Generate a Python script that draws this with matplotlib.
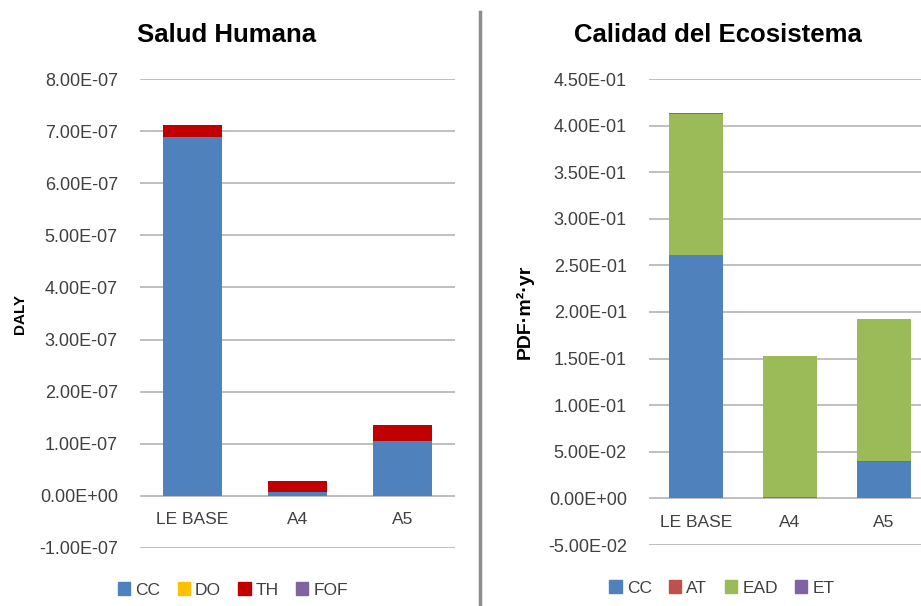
import matplotlib
matplotlib.use("Agg")
import matplotlib.pyplot as plt
from matplotlib.patches import Patch
from matplotlib.lines import Line2D
from matplotlib.ticker import FuncFormatter, MultipleLocator
import numpy as np

plt.rcParams['font.family'] = ['Liberation Sans', 'DejaVu Sans']

categories = ['LE BASE', 'A4', 'A5']

# Salud Humana (DALY)
sh_labels = ['CC', 'DO', 'TH', 'FOF']
sh_cc = [6.88e-7, 0.08e-7, 1.06e-7]
sh_do = [0.0, 0.0, 0.0]
sh_th = [0.23e-7, 0.21e-7, 0.30e-7]
sh_fof = [0.0, 0.0, 0.0]
sh_colors = ['#4f81bd', '#ffc000', '#c00000', '#8064a2']

# Calidad del Ecosistema (PDF·m2·yr)
ce_labels = ['CC', 'AT', 'EAD', 'ET']
ce_cc = [0.2615, 0.002, 0.0395]
ce_at = [0.0, 0.0, 0.001]
ce_ead = [0.1505, 0.1507, 0.1523]
ce_et = [0.001, 0.0, 0.0]
ce_colors = ['#4f81bd', '#c0504d', '#9bbb59', '#8064a2']

fig = plt.figure(figsize=(9.21, 6.06), dpi=100)

sci = FuncFormatter(lambda v, p: f"{v:.2E}")


def panel(ax, series, colors, ylim, step, ylabel, ylabel_size):
    x = np.arange(len(categories))
    bottom = np.zeros(len(categories))
    for vals, c in zip(series, colors):
        ax.bar(x, vals, 0.57, bottom=bottom, color=c, zorder=3)
        bottom += np.array(vals)
    ax.set_xlim(-0.5, len(categories) - 0.5)
    ax.set_ylim(*ylim)
    ax.yaxis.set_major_locator(MultipleLocator(step))
    ax.yaxis.set_major_formatter(sci)
    ax.grid(axis='y', color='#bfbfbf', lw=1.4, zorder=0)
    for s in ax.spines.values():
        s.set_visible(False)
    ax.set_xticks([])
    ax.tick_params(axis='y', length=0, pad=16, labelsize=13, labelcolor='#404040')
    for i, lab in enumerate(categories):
        ax.annotate(lab, xy=(i, 0), xytext=(0, -17), textcoords='offset points',
                    ha='center', va='center', fontsize=12.5, color='#404040')
    ax.set_ylabel(ylabel, fontsize=ylabel_size, fontweight='bold')


ax1 = fig.add_axes([140 / 921, 1 - 548 / 606, 315 / 921, 469 / 606])
panel(ax1, [sh_cc, sh_do, sh_th, sh_fof], sh_colors, (-1e-7, 8e-7), 1e-7, 'DALY', 11)
ax1.yaxis.set_label_coords(-0.36, 0.5)

ax2 = fig.add_axes([649 / 921, 1 - 545 / 606, 282 / 921, 466 / 606])
panel(ax2, [ce_cc, ce_at, ce_ead, ce_et], ce_colors, (-0.05, 0.45), 0.05, 'PDF·m²·yr', 14)
ax2.yaxis.set_label_coords(-0.41, 0.5)

fig.text(227 / 921, 1 - 35 / 606, 'Salud Humana', ha='center', va='center',
         fontsize=18.5, fontweight='bold')
fig.text(718 / 921, 1 - 35 / 606, 'Calidad del Ecosistema', ha='center', va='center',
         fontsize=18.5, fontweight='bold')

fig.add_artist(Line2D([480 / 921, 480 / 921], [0, 1 - 12 / 606], transform=fig.transFigure,
                      color='#8c8c8c', lw=2.5))

h1 = [Patch(color=c, label=l) for c, l in zip(sh_colors, sh_labels)]
fig.legend(handles=h1, loc='center', bbox_to_anchor=(233 / 921, 1 - 590 / 606), ncol=4,
           frameon=False, fontsize=12.5, handlelength=0.7, handleheight=0.7,
           handletextpad=0.3, columnspacing=1.0, labelcolor='#404040')
h2 = [Patch(color=c, label=l) for c, l in zip(ce_colors, ce_labels)]
fig.legend(handles=h2, loc='center', bbox_to_anchor=(722 / 921, 1 - 588 / 606), ncol=4,
           frameon=False, fontsize=12.5, handlelength=0.7, handleheight=0.7,
           handletextpad=0.3, columnspacing=1.0, labelcolor='#404040')

fig.savefig('out.png', dpi=100)
